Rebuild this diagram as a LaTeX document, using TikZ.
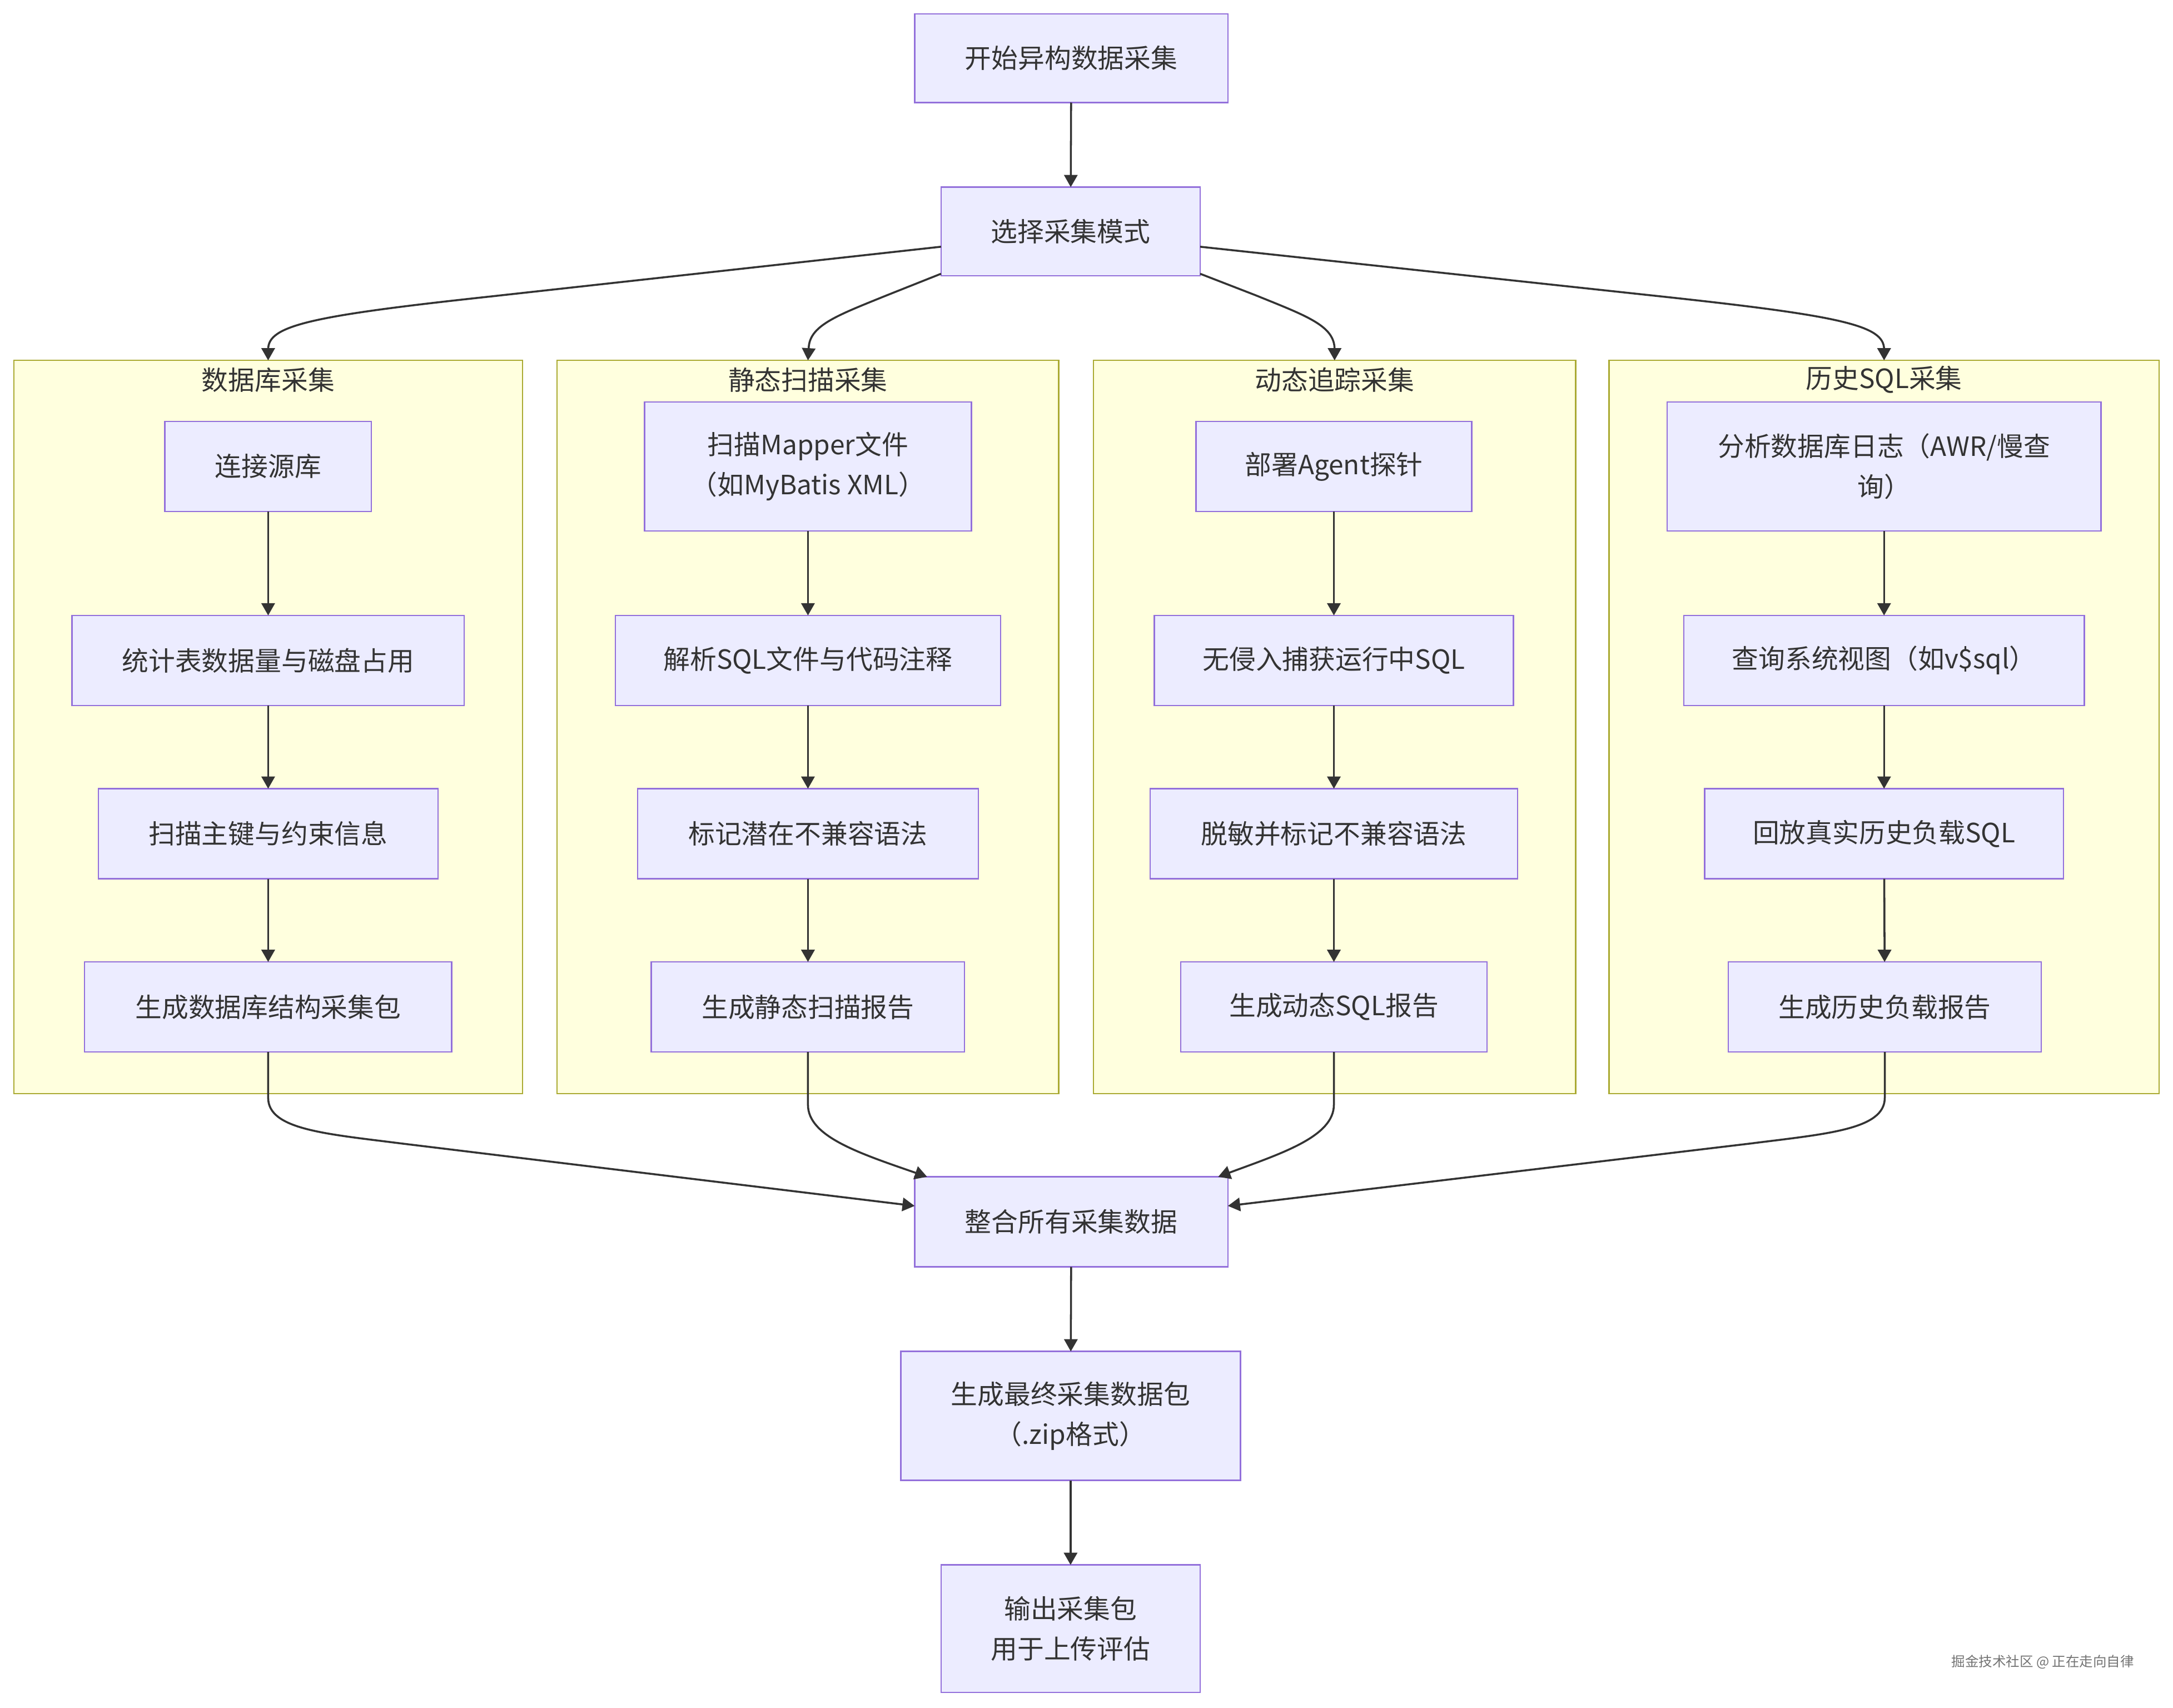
\documentclass[tikz,border=0pt]{standalone}
\usepackage{fontspec}
\setmainfont{Noto Sans CJK SC}
\usetikzlibrary{arrows.meta,calc}
\definecolor{nodefill}{HTML}{ECECFF}
\definecolor{nodeline}{HTML}{9370DB}
\definecolor{clfill}{HTML}{FFFFDE}
\definecolor{clline}{HTML}{AAAA33}
\definecolor{ink}{HTML}{333333}
\newcommand\mkbox[6]{\node[procbox, minimum width={(#4-#2)*0.6pt}, minimum height={(#5-#3)*0.6pt}] (#1) at ({(#2+#4)/2},{(#3+#5)/2}) {#6};}
\newcommand\mkcluster[6]{\node[clusterbox, minimum width={(#4-#2)*0.6pt}, minimum height={(#5-#3)*0.6pt}] (#1) at ({(#2+#4)/2},{(#3+#5)/2}) {};
\node[cltitle] (#1t) at ({(#2+#4)/2},{#3+14}) {#6};}
\tikzset{
  procbox/.style={draw=nodeline, fill=nodefill, line width=0.6pt, inner sep=0pt, outer sep=0pt, align=center, text=ink, font=\fontsize{11.5pt}{17.4pt}\selectfont},
  clusterbox/.style={draw=clline, fill=clfill, line width=0.6pt, inner sep=0pt, outer sep=0pt},
  cltitle/.style={text=ink, inner sep=0pt, font=\fontsize{11.5pt}{17.4pt}\selectfont},
  arr/.style={draw=ink, line width=0.85pt, -{Triangle[length=5.3pt,width=5.8pt]}}
}
\begin{document}
\begin{tikzpicture}[x=0.6pt, y=-0.6pt]
\fill[white] (0,0) rectangle (1568,1232);
\useasboundingbox (0,0) rectangle (1568,1232);

% clusters
\mkcluster{cA}{10}{260}{377}{789}{数据库采集}
\mkcluster{cB}{402}{260}{764}{789}{静态扫描采集}
\mkcluster{cC}{789}{260}{1137}{789}{动态追踪采集}
\mkcluster{cD}{1161}{260}{1558}{789}{历史SQL采集}

% main nodes
\mkbox{start}{660}{10}{886}{74}{开始异构数据采集}
\mkbox{mode}{679}{135}{866}{199}{选择采集模式}

% cluster A
\mkbox{a1}{119}{304}{268}{369}{连接源库}
\mkbox{a2}{52}{444}{335}{509}{统计表数据量与磁盘占用}
\mkbox{a3}{71}{569}{316}{634}{扫描主键与约束信息}
\mkbox{a4}{61}{694}{326}{759}{生成数据库结构采集包}

% cluster B
\mkbox{b1}{465}{290}{701}{383}{扫描Mapper文件\\（如MyBatis XML）}
\mkbox{b2}{444}{444}{722}{509}{解析SQL文件与代码注释}
\mkbox{b3}{460}{569}{706}{634}{标记潜在不兼容语法}
\mkbox{b4}{470}{694}{696}{759}{生成静态扫描报告}

% cluster C
\mkbox{c1}{863}{304}{1062}{369}{部署Agent探针}
\mkbox{c2}{833}{444}{1092}{509}{无侵入捕获运行中SQL}
\mkbox{c3}{830}{569}{1095}{634}{脱敏并标记不兼容语法}
\mkbox{c4}{852}{694}{1073}{759}{生成动态SQL报告}

% cluster D
\mkbox{d1}{1203}{290}{1516}{383}{分析数据库日志（AWR/慢查\\询）}
\mkbox{d2}{1215}{444}{1504}{509}{查询系统视图（如v\$sql）}
\mkbox{d3}{1230}{569}{1489}{634}{回放真实历史负载SQL}
\mkbox{d4}{1247}{694}{1473}{759}{生成历史负载报告}

% bottom nodes
\mkbox{merge}{660}{849}{886}{914}{整合所有采集数据}
\mkbox{pack}{650}{975}{895}{1068}{生成最终采集数据包\\（.zip格式）}
\mkbox{out}{679}{1129}{866}{1221}{输出采集包\\用于上传评估}

% edges top
\draw[arr] (start) -- (mode);
\draw[arr] ($(mode.west)+(0,11)$) -- (353,214) .. controls (223,228) and (193.5,235) .. (193.5,252) -- (cA.north);
\draw[arr] ($(mode.south west)+(0,-1.5)$) -- (640,213) .. controls (603,228) and (583.5,235) .. (583.5,252) -- (cB.north);
\draw[arr] ($(mode.south east)+(0,-1.5)$) -- (906,213) .. controls (943,228) and (963,235) .. (963,252) -- (cC.north);
\draw[arr] ($(mode.east)+(0,11)$) -- (1200,214) .. controls (1330,228) and (1359.5,235) .. (1359.5,252) -- (cD.north);

% edges inside clusters
\draw[arr] (a1) -- (a2);
\draw[arr] (a2) -- (a3);
\draw[arr] (a3) -- (a4);
\draw[arr] (b1) -- (b2);
\draw[arr] (b2) -- (b3);
\draw[arr] (b3) -- (b4);
\draw[arr] (c1) -- (c2);
\draw[arr] (c2) -- (c3);
\draw[arr] (c3) -- (c4);
\draw[arr] (d1) -- (d2);
\draw[arr] (d2) -- (d3);
\draw[arr] (d3) -- (d4);

% edges to merge
\draw[arr] (a4.south) -- (193.5,792) .. controls (193.5,815) and (235,818) .. (290,825) -- ($(merge.west)+(0,-11.5)$);
\draw[arr] (b4.south) -- (583,797) .. controls (583,820) and (620,832) .. ($(merge.north west)+(9,0)$);
\draw[arr] (c4.south) -- (962.5,797) .. controls (962.5,820) and (925,832) .. ($(merge.north east)+(-7,0)$);
\draw[arr] (d4.south) -- (1360,792) .. controls (1360,815) and (1318,818) .. (1263,825) -- ($(merge.east)+(0,-11.5)$);

\draw[arr] (merge) -- (pack);
\draw[arr] (pack) -- (out);

% watermark
\node[text=black!55, inner sep=0pt, font=\fontsize{5.9pt}{7pt}\selectfont] (wm) at (1474,1199) {掘金技术社区 @ 正在走向自律};
\end{tikzpicture}
\end{document}
